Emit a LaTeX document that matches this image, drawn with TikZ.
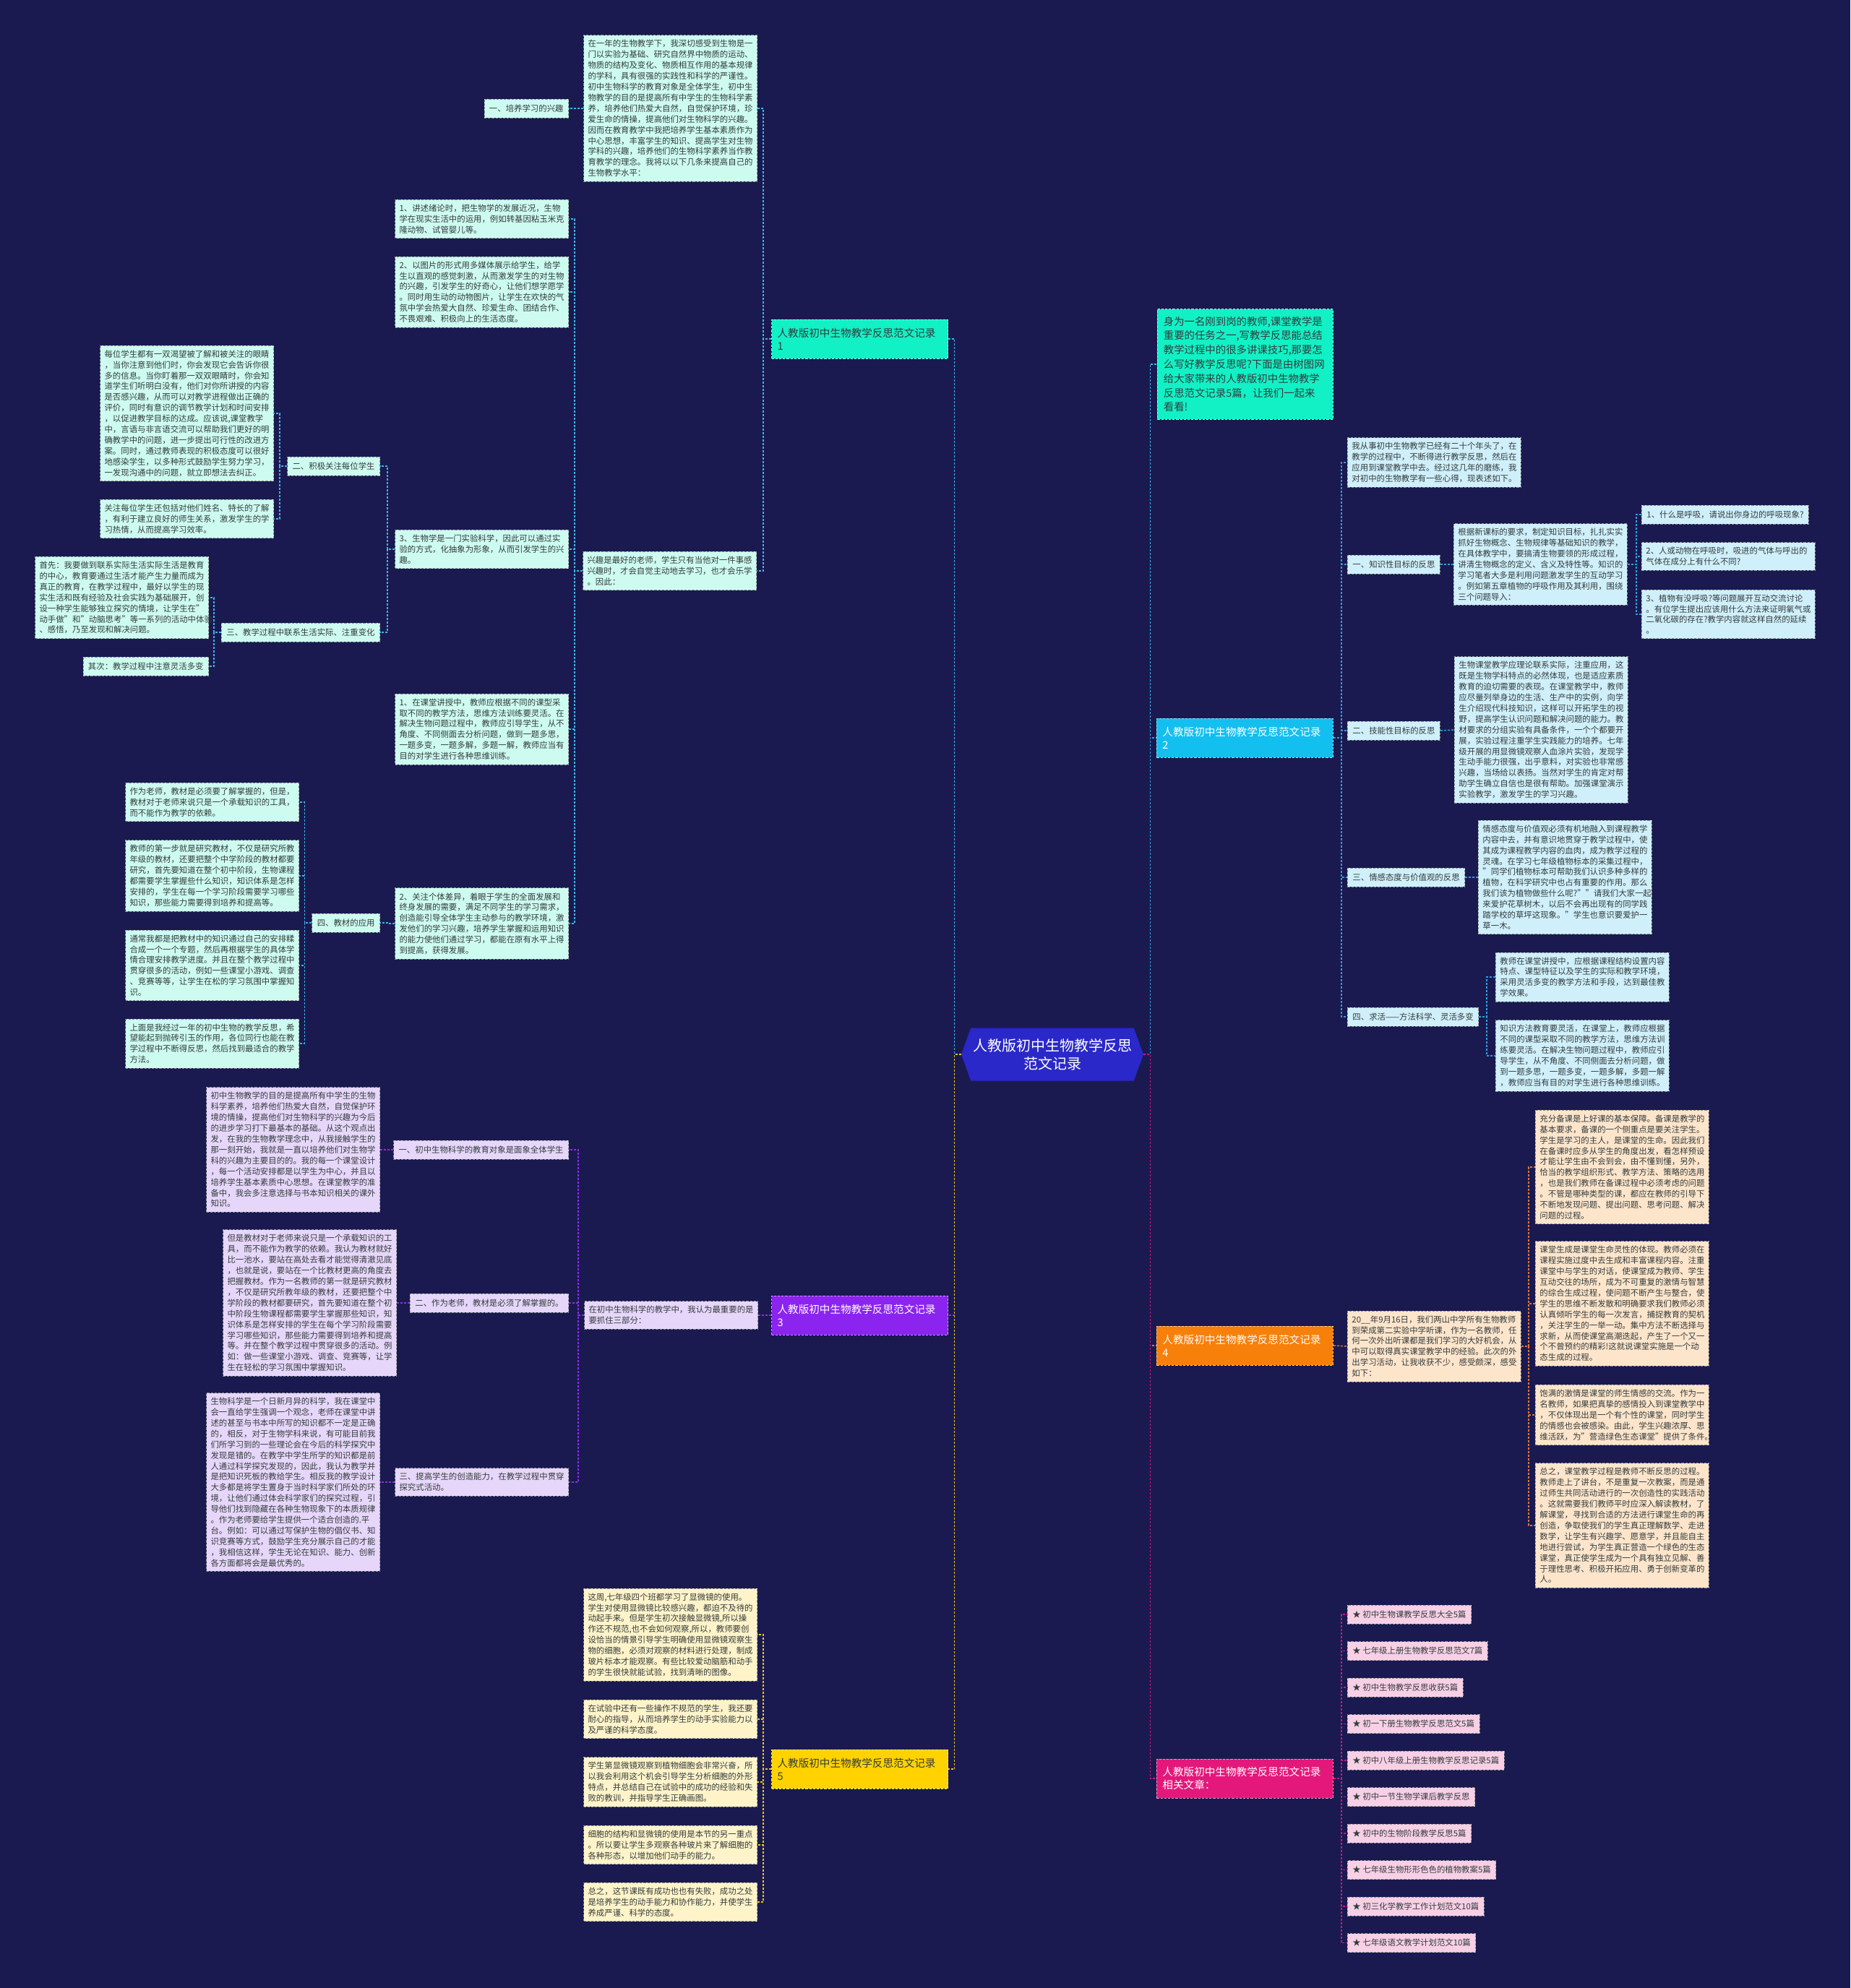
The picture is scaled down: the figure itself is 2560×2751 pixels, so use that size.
\documentclass[tikz,border=0pt]{standalone}
\usepackage{fontspec}
\setmainfont{Noto Sans CJK SC}
\usetikzlibrary{shapes.symbols}
\definecolor{bg}{HTML}{1B1A50}
\definecolor{ctrc}{HTML}{2A28C8}
\definecolor{tx}{HTML}{333C3C}
\definecolor{bd}{HTML}{8C9090}
\definecolor{m1}{HTML}{12F0C6}\definecolor{s1}{HTML}{CDFBEF}\definecolor{l1}{HTML}{3AB5E6}
\definecolor{m2}{HTML}{12BFEF}\definecolor{s2}{HTML}{CFEFFA}\definecolor{l2}{HTML}{2F9FDB}
\definecolor{m3}{HTML}{8B24EE}\definecolor{s3}{HTML}{E6D6FA}\definecolor{l3}{HTML}{8A30E0}
\definecolor{m4}{HTML}{F7800A}\definecolor{s4}{HTML}{FDE5CC}\definecolor{l4}{HTML}{D9783A}
\definecolor{m5}{HTML}{FFD200}\definecolor{s5}{HTML}{FFF3C9}\definecolor{l5}{HTML}{EFC21A}
\definecolor{m6}{HTML}{E4177A}\definecolor{s6}{HTML}{F8D0E6}\definecolor{l6}{HTML}{C41C7E}
\tikzset{
  para/.style={rectangle, draw=bd, dash pattern=on 1.6pt off 1pt, line width=0.45pt, text=tx,
    font=\fontsize{5.7}{7.45}\selectfont, align=left, text width=114pt, inner xsep=3pt, inner ysep=3.2pt},
  ttl/.style={rectangle, draw=bd, dash pattern=on 1.6pt off 1pt, line width=0.45pt, text=tx,
    font=\fontsize{5.7}{7.45}\selectfont, align=left, inner xsep=3.5pt, inner ysep=2pt, minimum height=13pt},
  mbr/.style={rectangle, draw=white!55!#1, fill=#1, dash pattern=on 1.6pt off 1pt, line width=0.45pt,
    font=\fontsize{7.3}{9}\selectfont, align=left, text width=114pt, inner xsep=4pt, minimum height=27pt},
  lk/.style={draw=#1, line width=0.75pt, dash pattern=on 1.5pt off 1pt},
}
\begin{document}
\begin{tikzpicture}[x=0.5pt,y=-0.5pt]
\fill[bg] (0,0) rectangle (2560,2751);
\useasboundingbox (0,0) rectangle (2560,2751);

% ---------- centre ----------
\node[shape=signal, signal to=west and east, signal pointer angle=140, fill=ctrc, text=white,
  font=\fontsize{10}{12.5}\selectfont, align=center, minimum width=126pt, minimum height=36.5pt, inner sep=1pt]
  (ctr) at (1456,1459) {人教版初中生物教学反思\\范文记录};

% ---------- main branches ----------
\node[mbr=m1, text=tx, anchor=east] (b1) at (1312,469) {人教版初中生物教学反思范文记录\\1};
\node[mbr=m3, text=white, anchor=east] (b3) at (1312,1820) {人教版初中生物教学反思范文记录\\3};
\node[mbr=m5, text=tx, anchor=east] (b5) at (1312,2448) {人教版初中生物教学反思范文记录\\5};
\node[rectangle, draw=white!55!m1, fill=m1, dash pattern=on 1.6pt off 1pt, line width=0.45pt, text=tx,
  font=\fontsize{7.2}{9.9}\selectfont, align=left, text width=113pt, inner xsep=4.2pt, inner ysep=5pt, anchor=west]
  (intro) at (1601,504) {身为一名刚到岗的教师,课堂教学是\\重要的任务之一,写教学反思能总结\\教学过程中的很多讲课技巧,那要怎\\么写好教学反思呢?下面是由树图网\\给大家带来的人教版初中生物教学\\反思范文记录5篇，让我们一起来\\看看!};
\node[mbr=m2, text=white, anchor=west] (b2) at (1600,1021) {人教版初中生物教学反思范文记录\\2};
\node[mbr=m4, text=white, anchor=west] (b4) at (1600,1862) {人教版初中生物教学反思范文记录\\4};
\node[mbr=m6, text=white, anchor=west] (b6) at (1600,2461) {人教版初中生物教学反思范文记录\\相关文章：};

\draw[lk=l1] (ctr.west) -- ++(-9,0) |- (b1.east);
\draw[lk=l3] (ctr.west) -- ++(-9,0) |- (b3.east);
\draw[lk=l5] (ctr.west) -- ++(-9,0) |- (b5.east);
\draw[lk=l1] (ctr.east) -- ++(9,0) |- (intro.west);
\draw[lk=l2] (ctr.east) -- ++(9,0) |- (b2.west);
\draw[lk=l4] (ctr.east) -- ++(9,0) |- (b4.west);
\draw[lk=l6] (ctr.east) -- ++(9,0) |- (b6.west);

% ---------- branch 1 ----------
\node[para, fill=s1, anchor=east] (B1p) at (1048,150) {在一年的生物教学下，我深切感受到生物是一\\门以实验为基础、研究自然界中物质的运动、\\物质的结构及变化、物质相互作用的基本规律\\的学科，具有很强的实践性和科学的严谨性。\\初中生物科学的教育对象是全体学生，初中生\\物教学的目的是提高所有中学生的生物科学素\\养，培养他们热爱大自然，自觉保护环境，珍\\爱生命的情操，提高他们对生物科学的兴趣。\\因而在教育教学中我把培养学生基本素质作为\\中心思想，丰富学生的知识、提高学生对生物\\学科的兴趣，培养他们的生物科学素养当作教\\育教学的理念。我将以以下几条来提高自己的\\生物教学水平：};
\node[ttl, fill=s1, anchor=east] (B1t) at (787,150) {一、培养学习的兴趣};
\node[para, fill=s1, anchor=east] (A1p) at (1047,790) {兴趣是最好的老师，学生只有当他对一件事感\\兴趣时，才会自觉主动地去学习，也才会乐学\\。因此：};
\node[para, fill=s1, anchor=east] (c1) at (787,303) {1、讲述绪论时，把生物学的发展近况，生物\\学在现实生活中的运用，例如转基因粘玉米克\\隆动物、试管婴儿等。};
\node[para, fill=s1, anchor=east] (c2) at (787,404) {2、以图片的形式用多媒体展示给学生，给学\\生以直观的感觉刺激，从而激发学生的对生物\\的兴趣，引发学生的好奇心，让他们想学愿学\\。同时用生动的动物图片，让学生在欢快的气\\氛中学会热爱大自然、珍爱生命、团结合作、\\不畏艰难、积极向上的生活态度。};
\node[para, fill=s1, anchor=east] (c3) at (787,760) {3、生物学是一门实验科学，因此可以通过实\\验的方式，化抽象为形象，从而引发学生的兴\\趣。};
\node[para, fill=s1, anchor=east] (c4) at (787,1009) {1、在课堂讲授中，教师应根据不同的课型采\\取不同的教学方法，思维方法训练要灵活。在\\解决生物问题过程中，教师应引导学生，从不\\角度、不同侧面去分析问题，做到一题多思，\\一题多变，一题多解，多题一解，教师应当有\\目的对学生进行各种思维训练。};
\node[para, fill=s1, anchor=east] (c5) at (787,1278) {2、关注个体差异，着眼于学生的全面发展和\\终身发展的需要，满足不同学生的学习需求，\\创造能引导全体学生主动参与的教学环境，激\\发他们的学习兴趣，培养学生掌握和运用知识\\的能力使他们通过学习，都能在原有水平上得\\到提高，获得发展。};
\node[ttl, fill=s1, anchor=east] (t2) at (526,645) {二、积极关注每位学生};
\node[para, fill=s1, anchor=east] (t2a) at (379,572) {每位学生都有一双渴望被了解和被关注的眼睛\\，当你注意到他们时，你会发现它会告诉你很\\多的信息。当你盯着那一双双眼睛时，你会知\\道学生们听明白没有，他们对你所讲授的内容\\是否感兴趣，从而可以对教学进程做出正确的\\评价，同时有意识的调节教学计划和时间安排\\，以促进教学目标的达成。应该说,课堂教学\\中，言语与非言语交流可以帮助我们更好的明\\确教学中的问题，进一步提出可行性的改进方\\案。同时，通过教师表现的积极态度可以很好\\地感染学生，以多种形式鼓励学生努力学习，\\一发现沟通中的问题，就立即想法去纠正。};
\node[para, fill=s1, anchor=east] (t2b) at (379,718) {关注每位学生还包括对他们姓名、特长的了解\\，有利于建立良好的师生关系，激发学生的学\\习热情，从而提高学习效率。};
\node[ttl, fill=s1, anchor=east] (t3) at (526,875) {三、教学过程中联系生活实际、注重变化};
\node[para, fill=s1, anchor=east] (t3a) at (289,827) {首先：我要做到联系实际生活实际生活是教育\\的中心，教育要通过生活才能产生力量而成为\\真正的教育，在教学过程中，最好以学生的现\\实生活和既有经验及社会实践为基础展开，创\\设一种学生能够独立探究的情境，让学生在"\\动手做"和"动脑思考"等一系列的活动中体验\\、感悟，乃至发现和解决问题。};
\node[ttl, fill=s1, anchor=east] (t3b) at (289,922) {其次：教学过程中注意灵活多变};
\node[ttl, fill=s1, anchor=east] (t4) at (526,1277) {四、教材的应用};
\node[para, fill=s1, anchor=east] (t4a) at (414,1110) {作为老师，教材是必须要了解掌握的，但是，\\教材对于老师来说只是一个承载知识的工具，\\而不能作为教学的依赖。};
\node[para, fill=s1, anchor=east] (t4b) at (414,1212) {教师的第一步就是研究教材，不仅是研究所教\\年级的教材，还要把整个中学阶段的教材都要\\研究，首先要知道在整个初中阶段，生物课程\\都需要学生掌握些什么知识，知识体系是怎样\\安排的，学生在每一个学习阶段需要学习哪些\\知识，那些能力需要得到培养和提高等。};
\node[para, fill=s1, anchor=east] (t4c) at (414,1336) {通常我都是把教材中的知识通过自己的安排糅\\合成一个一个专题，然后再根据学生的具体学\\情合理安排教学进度。并且在整个教学过程中\\贯穿很多的活动，例如一些课堂小游戏、调查\\、竞赛等等，让学生在松的学习氛围中掌握知\\识。};
\node[para, fill=s1, anchor=east] (t4d) at (414,1444) {上面是我经过一年的初中生物的教学反思，希\\望能起到抛砖引玉的作用，各位同行也能在教\\学过程中不断得反思，然后找到最适合的教学\\方法。};

\draw[lk=l1] (b1.west) -- ++(-11,0) |- (B1p.east);
\draw[lk=l1] (b1.west) -- ++(-11,0) |- (A1p.east);
\draw[lk=l1] (B1p.west) -- (B1t.east);
\foreach \n in {c1,c2,c3,c4,c5} \draw[lk=l1] (A1p.west) -- ++(-11,0) |- (\n.east);
\draw[lk=l1] (c3.west) -- ++(-10,0) |- (t2.east);
\draw[lk=l1] (c3.west) -- ++(-10,0) |- (t3.east);
\draw[lk=l1] (c5.west) -- ++(-10,0) |- (t4.east);
\draw[lk=l1] (t2.west) -- ++(-10,0) |- (t2a.east);
\draw[lk=l1] (t2.west) -- ++(-10,0) |- (t2b.east);
\draw[lk=l1] (t3.west) -- ++(-10,0) |- (t3a.east);
\draw[lk=l1] (t3.west) -- ++(-10,0) |- (t3b.east);
\foreach \n in {t4a,t4b,t4c,t4d} \draw[lk=l1] (t4.west) -- ++(-10,0) |- (\n.east);

% ---------- branch 3 ----------
\node[para, fill=s3, anchor=east] (P3r) at (1049,1820) {在初中生物科学的教学中，我认为最重要的是\\要抓住三部分：};
\node[ttl, fill=s3, anchor=east] (p31t) at (787,1591) {一、初中生物科学的教育对象是面象全体学生};
\node[para, fill=s3, anchor=east] (p31p) at (526,1591) {初中生物教学的目的是提高所有中学生的生物\\科学素养，培养他们热爱大自然，自觉保护环\\境的情操，提高他们对生物科学的兴趣为今后\\的进步学习打下最基本的基础。从这个观点出\\发，在我的生物教学理念中，从我接触学生的\\那一刻开始，我就是一直以培养他们对生物学\\科的兴趣为主要目的的。我的每一个课堂设计\\，每一个活动安排都是以学生为中心，并且以\\培养学生基本素质中心思想。在课堂教学的准\\备中，我会多注意选择与书本知识相关的课外\\知识。};
\node[ttl, fill=s3, anchor=east] (p32t) at (787,1803) {二、作为老师，教材是必须了解掌握的。};
\node[para, fill=s3, anchor=east] (p32p) at (549,1803) {但是教材对于老师来说只是一个承载知识的工\\具，而不能作为教学的依赖。我认为教材就好\\比一池水，要站在高处去看才能觉得清澈见底\\，也就是说，要站在一个比教材更高的角度去\\把握教材。作为一名教师的第一就是研究教材\\，不仅是研究所教年级的教材，还要把整个中\\学阶段的教材都要研究，首先要知道在整个初\\中阶段生物课程都需要学生掌握那些知识，知\\识体系是怎样安排的学生在每个学习阶段需要\\学习哪些知识，那些能力需要得到培养和提高\\等。并在整个教学过程中贯穿很多的活动。例\\如：做一些课堂小游戏、调查、竞赛等，让学\\生在轻松的学习氛围中掌握知识。};
\node[para, fill=s3, anchor=east] (p33t) at (787,2051) {三、提高学生的创造能力，在教学过程中贯穿\\探究式活动。};
\node[para, fill=s3, anchor=east] (p33p) at (526,2051) {生物科学是一个日新月异的科学，我在课堂中\\会一直给学生强调一个观念，老师在课堂中讲\\述的甚至与书本中所写的知识都不一定是正确\\的，相反，对于生物学科来说，有可能目前我\\们所学习到的一些理论会在今后的科学探究中\\发现是错的。在教学中学生所学的知识都是前\\人通过科学探究发现的，因此，我认为教学并\\是把知识死板的教给学生。相反我的教学设计\\大多都是将学生置身于当时科学家们所处的环\\境，让他们通过体会科学家们的探究过程，引\\导他们找到隐藏在各种生物现象下的本质规律\\。作为老师要给学生提供一个适合创造的.平\\台。例如：可以通过写保护生物的倡仪书、知\\识竞赛等方式，鼓励学生充分展示自己的才能\\，我相信这样，学生无论在知识、能力、创新\\各方面都将会是最优秀的。};

\draw[lk=l3] (b3.west) -- (P3r.east);
\foreach \n in {p31t,p32t,p33t} \draw[lk=l3] (P3r.west) -- ++(-8,0) |- (\n.east);
\draw[lk=l3] (p31t.west) -- (p31p.east);
\draw[lk=l3] (p32t.west) -- (p32p.east);
\draw[lk=l3] (p33t.west) -- (p33p.east);

% ---------- branch 5 ----------
\node[para, fill=s5, anchor=east] (y1) at (1048,2262) {这周,七年级四个班都学习了显微镜的使用。\\学生对使用显微镜比较感兴趣，都迫不及待的\\动起手来。但是学生初次接触显微镜,所以操\\作还不规范,也不会如何观察,所以，教师要创\\设恰当的情景引导学生明确使用显微镜观察生\\物的细胞，必须对观察的材料进行处理，制成\\玻片标本才能观察。有些比较爱动脑筋和动手\\的学生很快就能试验，找到清晰的图像。};
\node[para, fill=s5, anchor=east] (y2) at (1048,2379) {在试验中还有一些操作不规范的学生，我还要\\耐心的指导，从而培养学生的动手实验能力以\\及严谨的科学态度。};
\node[para, fill=s5, anchor=east] (y3) at (1048,2466) {学生第显微镜观察到植物细胞会非常兴奋，所\\以我会利用这个机会引导学生分析细胞的外形\\特点，并总结自己在试验中的成功的经验和失\\败的教训，并指导学生正确画图。};
\node[para, fill=s5, anchor=east] (y4) at (1048,2553) {细胞的结构和显微镜的使用是本节的另一重点\\。所以要让学生多观察各种玻片来了解细胞的\\各种形态，以增加他们动手的能力。};
\node[para, fill=s5, anchor=east] (y5) at (1048,2632) {总之，这节课既有成功也也有失败，成功之处\\是培养学生的动手能力和协作能力，并使学生\\养成严谨、科学的态度。};
\foreach \n in {y1,y2,y3,y4,y5} \draw[lk=l5] (b5.west) -- ++(-11,0) |- (\n.east);

% ---------- branch 2 ----------
\node[para, fill=s2, anchor=west] (r0) at (1864,640) {我从事初中生物教学已经有二十个年头了，在\\教学的过程中，不断得进行教学反思，然后在\\应用到课堂教学中去。经过这几年的磨练，我\\对初中的生物教学有一些心得，现表述如下。};
\node[ttl, fill=s2, anchor=west] (r1t) at (1864,781) {一、知识性目标的反思};
\node[para, fill=s2, anchor=west] (r1p) at (2011,781) {根据新课标的要求，制定知识目标，扎扎实实\\抓好生物概念、生物规律等基础知识的教学，\\在具体教学中，要搞清生物要领的形成过程，\\讲清生物概念的定义、含义及特性等。知识的\\学习笔者大多是利用问题激发学生的互动学习\\。例如第五章植物的呼吸作用及其利用，围绕\\三个问题导入：};
\node[ttl, fill=s2, anchor=west] (q1) at (2271,712) {1、什么是呼吸，请说出你身边的呼吸现象?};
\node[para, fill=s2, anchor=west] (q2) at (2271,770) {2、人或动物在呼吸时，吸进的气体与呼出的\\气体在成分上有什么不同?};
\node[para, fill=s2, anchor=west] (q3) at (2271,850) {3、植物有没呼吸?等问题展开互动交流讨论\\。有位学生提出应该用什么方法来证明氧气或\\二氧化碳的存在?教学内容就这样自然的延续\\。};
\node[ttl, fill=s2, anchor=west] (r2t) at (1864,1011) {二、技能性目标的反思};
\node[para, fill=s2, anchor=west] (r2p) at (2012,1010) {生物课堂教学应理论联系实际，注重应用，这\\既是生物学科特点的必然体现，也是适应素质\\教育的迫切需要的表现。在课堂教学中，教师\\应尽量列举身边的生活、生产中的实例，向学\\生介绍现代科技知识，这样可以开拓学生的视\\野，提高学生认识问题和解决问题的能力。教\\材要求的分组实验有具备条件，一个个都要开\\展，实验过程注重学生实践能力的培养。七年\\级开展的用显微镜观察人血涂片实验，发现学\\生动手能力很强，出乎意料，对实验也非常感\\兴趣，当场给以表扬。当然对学生的肯定对帮\\助学生确立自信也是很有帮助。加强课堂演示\\实验教学，激发学生的学习兴趣。};
\node[ttl, fill=s2, anchor=west] (r3t) at (1864,1214) {三、情感态度与价值观的反思};
\node[para, fill=s2, anchor=west] (r3p) at (2045,1214) {情感态度与价值观必须有机地融入到课程教学\\内容中去，并有意识地贯穿于教学过程中，使\\其成为课程教学内容的血肉，成为教学过程的\\灵魂。在学习七年级植物标本的采集过程中，\\"同学们植物标本可帮助我们认识多种多样的\\植物，在科学研究中也占有重要的作用。那么\\我们该为植物做些什么呢?""请我们大家一起\\来爱护花草树木，以后不会再出现有的同学践\\踏学校的草坪这现象。"学生也意识要爱护一\\草一木。};
\node[ttl, fill=s2, anchor=west] (r4t) at (1864,1407) {四、求活——方法科学、灵活多变};
\node[para, fill=s2, anchor=west] (r4a) at (2069,1352) {教师在课堂讲授中，应根据课程结构设置内容\\特点、课型特征以及学生的实际和教学环境，\\采用灵活多变的教学方法和手段，达到最佳教\\学效果。};
\node[para, fill=s2, anchor=west] (r4b) at (2069,1461) {知识方法教育要灵活，在课堂上，教师应根据\\不同的课型采取不同的教学方法，思维方法训\\练要灵活。在解决生物问题过程中，教师应引\\导学生，从不角度、不同侧面去分析问题，做\\到一题多思，一题多变，一题多解，多题一解\\，教师应当有目的对学生进行各种思维训练。};

\foreach \n in {r0,r1t,r2t,r3t,r4t} \draw[lk=l2] (b2.east) -- ++(11,0) |- (\n.west);
\draw[lk=l2] (r1t.east) -- (r1p.west);
\foreach \n in {q1,q2,q3} \draw[lk=l2] (r1p.east) -- ++(12,0) |- (\n.west);
\draw[lk=l2] (r2t.east) -- (r2p.west);
\draw[lk=l2] (r3t.east) -- (r3p.west);
\foreach \n in {r4a,r4b} \draw[lk=l2] (r4t.east) -- ++(11,0) |- (\n.west);

% ---------- branch 4 ----------
\node[para, fill=s4, anchor=west] (o0) at (1864,1863) {20\_\_年9月16日，我们两山中学所有生物教师\\到荣成第二实验中学听课，作为一名教师，任\\何一次外出听课都是我们学习的大好机会，从\\中可以取得真实课堂教学中的经验。此次的外\\出学习活动，让我收获不少，感受颇深，感受\\如下：};
\node[para, fill=s4, anchor=west] (o1) at (2124,1615) {充分备课是上好课的基本保障。备课是教学的\\基本要求，备课的一个侧重点是要关注学生。\\学生是学习的主人，是课堂的生命。因此我们\\在备课时应多从学生的角度出发，看怎样预设\\才能让学生由不会到会，由不懂到懂，另外，\\恰当的教学组织形式、教学方法、策略的选用\\，也是我们教师在备课过程中必须考虑的问题\\。不管是哪种类型的课，都应在教师的引导下\\不断地发现问题、提出问题、思考问题、解决\\问题的过程。};
\node[para, fill=s4, anchor=west] (o2) at (2124,1804) {课堂生成是课堂生命灵性的体现。教师必须在\\课程实施过度中去生成和丰富课程内容。注重\\课堂中与学生的对话，使课堂成为教师、学生\\互动交往的场所，成为不可重复的激情与智慧\\的综合生成过程，使问题不断产生与整合，使\\学生的思维不断发散和明确要求我们教师必须\\认真倾听学生的每一次发言，捕捉教育的契机\\，关注学生的一举一动。集中方法不断选择与\\求新，从而使课堂高潮迭起，产生了一个又一\\个不曾预约的精彩!这就说课堂实施是一个动\\态生成的过程。};
\node[para, fill=s4, anchor=west] (o3) at (2124,1958) {饱满的激情是课堂的师生情感的交流。作为一\\名教师，如果把真挚的感情投入到课堂教学中\\，不仅体现出是一个有个性的课堂，同时学生\\的情感也会被感染。由此，学生兴趣浓厚、思\\维活跃，为"营造绿色生态课堂"提供了条件。};
\node[para, fill=s4, anchor=west] (o4) at (2124,2111) {总之，课堂教学过程是教师不断反思的过程。\\教师走上了讲台，不是重复一次教案，而是通\\过师生共同活动进行的一次创造性的实践活动\\。这就需要我们教师平时应深入解读教材，了\\解课堂，寻找到合适的方法进行课堂生命的再\\创造，争取使我们的学生真正理解数学、走进\\数学，让学生有兴趣学、愿意学，并且能自主\\地进行尝试，为学生真正营造一个绿色的生态\\课堂，真正使学生成为一个具有独立见解、善\\于理性思考、积极开拓应用、勇于创新变革的\\人。};
\draw[lk=l4] (b4.east) -- (o0.west);
\foreach \n in {o1,o2,o3,o4} \draw[lk=l4] (o0.east) -- ++(10,0) |- (\n.west);

% ---------- related ----------
\foreach \i/\t in {1/初中生物课教学反思大全5篇, 2/七年级上册生物教学反思范文7篇, 3/初中生物教学反思收获5篇, 4/初一下册生物教学反思范文5篇, 5/初中八年级上册生物教学反思记录5篇, 6/初中一节生物学课后教学反思, 7/初中的生物阶段教学反思5篇, 8/七年级生物形形色色的植物教案5篇, 9/初三化学教学工作计划范文10篇, 10/七年级语文教学计划范文10篇}{
  \node[ttl, fill=s6, anchor=west] (rel\i) at (1864,{2234+(\i-1)*50.5}) {★ \t};
  \draw[lk=l6] (b6.east) -- ++(11,0) |- (rel\i.west);
}
\end{tikzpicture}
\end{document}
